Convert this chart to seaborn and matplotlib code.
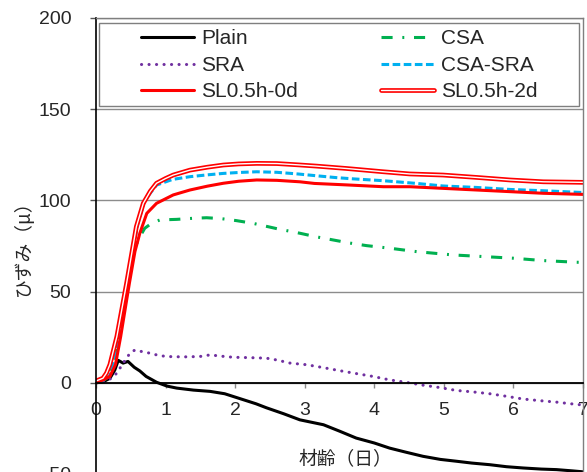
import matplotlib
matplotlib.use("Agg")
import matplotlib.pyplot as plt
import matplotlib.patheffects as pe
from matplotlib.patches import Rectangle
import seaborn as sns
import pandas as pd

# ---- data ----
plain_x = [0, 0.1, 0.2, 0.27, 0.32, 0.39, 0.46, 0.55, 0.63, 0.72, 0.87, 1.02, 1.16, 1.4, 1.64, 1.85, 2.12, 2.3, 2.45, 2.7, 2.93,
           3.27, 3.5, 3.74, 4.0, 4.22, 4.45, 4.70, 4.95, 5.18, 5.4, 5.66, 5.9, 6.14, 6.4, 6.62, 6.85, 7.0]
plain_y = [0, 0.5, 2.5, 7, 12.3, 10.8, 11.7, 8.5, 6.5, 3.5, 0.3, -1.8, -2.9, -4.0, -4.7, -6.0, -9.3, -11.5, -13.7, -17, -20.3,
           -23, -26.5, -30.3, -33, -35.8, -38, -40.3, -42, -43, -44, -44.9, -46, -46.7, -47.3, -47.6, -48.3, -48.8]

sra_x = [0, 0.1, 0.2, 0.3, 0.39, 0.49, 0.56, 0.65, 0.78, 0.9, 1.02, 1.25, 1.49, 1.64, 1.8, 1.97, 2.2, 2.45, 2.6, 2.79,
         3.03, 3.27, 3.51, 3.75, 3.98, 4.22, 4.47, 4.70, 4.94, 5.18, 5.42, 5.66, 5.9, 6.14, 6.38, 6.62, 6.8, 6.95, 7.0]
sra_y = [0, 0.3, 2, 5.3, 10.8, 16.3, 18, 17.2, 16.2, 15, 14.4, 14.2, 14.4, 15.3, 14.6, 14, 13.8, 13.5, 12.5, 10.8,
         9.9, 8.3, 6.6, 5, 3.5, 1.6, 0.2, -1.3, -2.6, -4.2, -5, -6, -7.4, -8.9, -9.8, -10.6, -11.4, -12, -12.3]

csa_x = [0, 0.1, 0.2, 0.3, 0.4, 0.5, 0.6, 0.7, 0.8, 0.92, 1.16, 1.4, 1.59, 1.8, 2.02, 2.26, 2.6, 2.93, 3.17, 3.41,
         3.65, 3.89, 4.22, 4.61, 5.13, 5.57, 6.0, 6.43, 6.9, 7.0]
csa_y = [0, 1, 4, 18, 42, 65, 78, 84.7, 87.5, 89.3, 89.6, 90.2, 90.5, 90, 88.9, 87.4, 84.5, 82, 80, 78.3,
         76.6, 75.2, 73.8, 71.9, 70.1, 69.2, 68.3, 67, 66.1, 66]

csasra_x = [0, 0.1, 0.2, 0.3, 0.4, 0.5, 0.6, 0.7, 0.87, 1.1, 1.35, 1.6, 1.83, 2.05, 2.31, 2.6, 2.9, 3.17, 3.45, 3.7,
            4.13, 4.61, 4.99, 5.47, 5.95, 6.43, 6.95, 7.0]
csasra_y = [0, 1, 4, 19, 43, 66, 87, 100, 108.4, 111.5, 113, 114, 114.8, 115.3, 115.7, 115.4, 114.5, 113.5, 112.5, 111.8,
            110.8, 109.3, 107.9, 107.1, 106, 105.3, 104.4, 104.3]

sl0d_x = [0, 0.1, 0.2, 0.28, 0.355, 0.48, 0.56, 0.63, 0.73, 0.87, 1.11, 1.35, 1.6, 1.83, 2.05, 2.31, 2.6, 2.93, 3.14,
          3.6, 4.13, 4.51, 4.99, 5.47, 5.95, 6.43, 7.0]
sl0d_y = [0, 1.5, 3.5, 10, 25.4, 54.6, 72, 82, 92.9, 98.4, 103, 105.7, 107.8, 109.4, 110.5, 111.2, 111, 110.2, 109.3,
          108.5, 107.5, 107.5, 106.6, 105.7, 104.8, 103.9, 103.3]

sl2d_x = [0, 0.1, 0.15, 0.2, 0.3, 0.44, 0.58, 0.68, 0.78, 0.87, 1.0, 1.11, 1.35, 1.6, 1.83, 2.05, 2.31, 2.6, 2.9, 3.17,
          3.6, 4.13, 4.51, 4.99, 5.47, 5.95, 6.43, 7.0]
sl2d_y = [1, 2.5, 5.3, 10, 25.4, 54.6, 85.6, 98.4, 105, 109.4, 112, 113.9, 116.6, 118.2, 119.4, 120, 120.3, 120.2, 119.5, 118.8,
          117.5, 115.7, 114.5, 113.9, 112.6, 111.2, 110.2, 109.9]

legend_labels = ["Plain", "SRA", "SL0.5h-0d", "CSA", "CSA-SRA", "SL0.5h-2d"]
x_ticks = [0, 1, 2, 3, 4, 5, 6, 7]
y_ticks = [-50, 0, 50, 100, 150, 200]
x_label = "材齢（日）"
y_label = "ひずみ（μ）"

# ---- style ----
sns.set_style("white")
plt.rcParams["font.family"] = ["Liberation Sans", "Noto Sans CJK JP", "DejaVu Sans"]
plt.rcParams["lines.scale_dashes"] = False

W, H = 587, 472
fig = plt.figure(figsize=(W / 100, H / 100), dpi=100)
ax = fig.add_axes([96 / W, -2 / H, 487 / W, 456 / H])

def draw(x, y, **kw):
    df = pd.DataFrame({"x": x, "y": y})
    sns.lineplot(data=df, x="x", y="y", ax=ax, estimator=None, legend=False, **kw)
    return ax.lines[-1]

h_plain = draw(plain_x, plain_y, color="black", linewidth=2.2)
h_csa = draw(csa_x, csa_y, color="#00B050", linewidth=2.2, dashes=(8, 7, 1.4, 7))
h_sra = draw(sra_x, sra_y, color="#7030A0", linewidth=2.2, dashes=(0.1, 5.3), dash_capstyle="round")
h_cs = draw(csasra_x, csasra_y, color="#00B0F0", linewidth=2.2, dashes=(5.5, 2.5))
h_sl0 = draw(sl0d_x, sl0d_y, color="#FF0000", linewidth=2.2)
h_sl2 = draw(sl2d_x, sl2d_y, color="white", linewidth=1.0,
             path_effects=[pe.Stroke(linewidth=3.4, foreground="#FF0000"), pe.Normal()])

ax.set_xlim(0, 7)
ax.set_ylim(-50, 200)
ax.set_xticks(x_ticks)
ax.set_yticks(y_ticks)
ax.set_xlabel("")
ax.set_ylabel("")

ax.set_axisbelow(True)
ax.yaxis.grid(True, color="#8c8c8c", linewidth=1.0)
ax.xaxis.grid(False)

ax.spines["bottom"].set_position(("data", 0))
ax.spines["bottom"].set_color("black")
ax.spines["bottom"].set_linewidth(1.3)
ax.spines["left"].set_color("black")
ax.spines["left"].set_linewidth(1.2)
for s in ("top", "right"):
    ax.spines[s].set_color("#7f7f7f")
    ax.spines[s].set_linewidth(1.0)

ax.tick_params(axis="y", direction="out", length=4.3, width=1, color="#555555",
               labelsize=14, pad=13.5, left=True)
ax.tick_params(axis="x", direction="out", length=3.6, width=1, color="#888888",
               labelsize=14, pad=10.5, bottom=True)

# legend frame
ax.add_patch(Rectangle((0.0062, 0.807), 0.9856, 0.182, transform=ax.transAxes,
                       facecolor="white", edgecolor="#7f7f7f", linewidth=1.0, zorder=5))
leg = ax.legend([h_plain, h_sra, h_sl0, h_csa, h_cs, h_sl2], legend_labels,
                ncol=2, frameon=False, loc="upper left", bbox_to_anchor=(0.0924, 0.975),
                borderpad=0, borderaxespad=0, handlelength=2.55, handletextpad=0.34,
                columnspacing=4.0, labelspacing=0.36, fontsize=15)
leg.set_zorder(6)

fig.text(345 / W, 1 - 460 / H, x_label, ha="center", va="center", fontsize=13.5,
         family=["Noto Sans CJK JP"])
fig.text(23 / W, 1 - 243 / H, y_label, ha="center", va="center", rotation=90, fontsize=13.5,
         family=["Noto Sans CJK JP"])

fig.savefig("out.png", dpi=100)
